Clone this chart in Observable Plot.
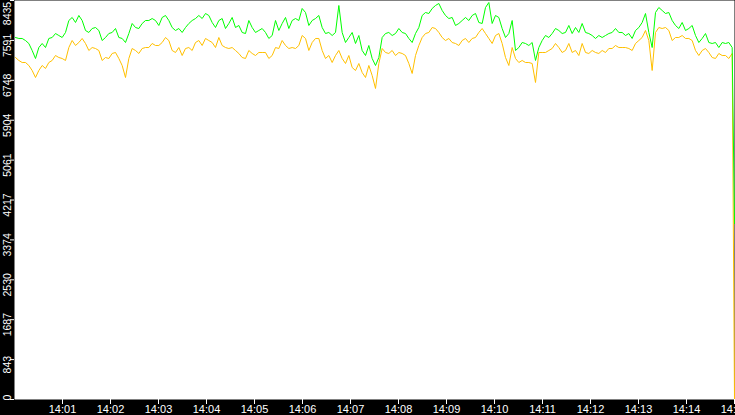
<!DOCTYPE html>
<html>
<head>
<meta charset="utf-8">
<script src="https://cdn.jsdelivr.net/npm/d3@7"></script>
<script src="https://cdn.jsdelivr.net/npm/@observablehq/plot@0.6"></script>
<style>
  html, body { margin: 0; padding: 0; background: #000; overflow: hidden; }
  #chart svg { display: block; }
</style>
</head>
<body>
<div id="chart"></div>
<script>
// ---- data ----
const greenValues = [
  7653,7632,7632,7589,7526,7378,7209,7441,7526,7441,7632,7653,7737,7695,7653,7759,8012,8076,7970,8118,8012,7801,7759,7843,7864,7801,7589,7653,7737,7759,7843,7653,7632,7547,7737,7949,7864,7843,7949,8012,8012,8054,8012,7907,8076,8118,8012,7864,7801,7843,7759,7864,7949,8012,
  8054,8118,8054,8160,8118,7970,7864,8012,8054,7843,7949,8076,7864,7907,7759,7737,8012,7864,7759,7801,7843,7759,7632,7695,8012,7801,7949,8076,7843,8012,8054,8012,8266,8181,7907,8012,8054,8118,7864,7737,7759,7695,7759,8329,7759,7547,7653,7759,7526,7695,7378,7272,7484,7209,
  7061,7230,7653,7737,7759,7695,7737,7843,7759,7737,7632,7547,7737,7864,8118,8181,8160,8266,8329,8372,8224,8118,8054,8076,7907,7949,8012,8076,8012,8118,8160,7970,7949,8287,8393,7949,8118,8076,7843,7653,7737,8012,7378,7441,7547,7526,7484,7547,7167,7441,7589,7695,7653,7737,
  7843,7801,7737,7759,7907,7737,7864,7759,7949,7759,7737,7695,7632,7695,7653,7695,7737,7759,7843,7759,7759,7695,7737,7632,7801,7864,7970,8160,7759,7441,8181,8287,8224,8160,8181,8012,7907,7843,7970,7801,7843,7907,7695,7547,7632,7737,7547,7526,7547,7441,7547,7526,7547,7441,
  3720
];
const yellowValues = [
  7230,7167,7124,7124,7061,6955,6807,6955,7061,6998,7124,7167,7272,7230,7209,7167,7441,7589,7484,7547,7632,7526,7378,7441,7420,7378,7167,7230,7209,7315,7336,7209,7061,6807,7209,7420,7378,7315,7420,7441,7441,7526,7484,7484,7547,7653,7589,7378,7336,7441,7272,7420,7441,7378,
  7547,7589,7484,7632,7589,7547,7441,7653,7484,7441,7420,7441,7378,7315,7230,7209,7378,7315,7272,7336,7336,7336,7209,7272,7441,7420,7589,7484,7420,7441,7420,7484,7695,7632,7378,7547,7632,7632,7378,7209,7272,7124,7272,7378,7209,7103,7272,7019,6955,7103,6913,6807,7061,6850,
  6575,7103,7420,7336,7315,7378,7272,7336,7315,7272,7103,6892,7272,7484,7653,7737,7759,7864,7843,7759,7653,7589,7632,7547,7526,7484,7589,7632,7547,7632,7653,7759,7843,7737,7632,7526,7695,7737,7526,7230,7061,7441,7209,7124,7167,7124,7124,7103,6702,7336,7336,7336,7378,7420,
  7526,7441,7336,7378,7526,7336,7378,7272,7526,7336,7315,7378,7336,7315,7378,7336,7420,7420,7484,7441,7441,7441,7420,7378,7526,7589,7653,7801,7589,6955,7759,7864,7843,7864,7801,7589,7653,7653,7695,7632,7632,7589,7378,7272,7378,7420,7336,7230,7209,7315,7272,7272,7209,7315,
  0
];
const startTime = "2024-01-01T14:00:01.250Z";   // first sample
const sampleStepSeconds = 4.1667;                // sampling interval
const endTime = "2024-01-01T14:15:00Z";          // last sample (drop)
const xDomain = ["2024-01-01T14:00:00Z", "2024-01-01T14:15:00Z"];
const xTickTimes = ["14:01","14:02","14:03","14:04","14:05","14:06","14:07","14:08","14:09","14:10","14:11","14:12","14:13","14:14","14:15"];
const yMax = 8435;
const yTickLabels = [0, 843, 1687, 2530, 3374, 4217, 5061, 5904, 6748, 7591, 8435];

// ---- build table ----
const t0 = new Date(startTime).getTime();
const tEnd = new Date(endTime);
const n = greenValues.length;
const timeAt = i => i === n - 1 ? tEnd : new Date(t0 + i * sampleStepSeconds * 1000);
const greenRows = greenValues.map((v, i) => ({time: timeAt(i), value: v}));
const yellowRows = yellowValues.map((v, i) => ({time: timeAt(i), value: v}));
const xTicks = xTickTimes.map(s => new Date(`2024-01-01T${s}:00Z`));
const midLabels = yTickLabels.slice(1, -1);

const labelOpts = {y: d => d, text: d => String(d), frameAnchor: "left", dx: -7, rotate: -90, textAnchor: "middle", lineAnchor: "middle", fill: "#fff", fontSize: 10.5};

const chart = Plot.plot({
  width: 735,
  height: 415,
  marginLeft: 14,
  marginRight: 1,
  marginTop: 0,
  marginBottom: 16,
  style: {background: "#000", color: "#fff", fontFamily: "Liberation Sans, Arial, sans-serif", overflow: "hidden"},
  x: {type: "utc", domain: xDomain.map(d => new Date(d))},
  y: {domain: [0, yMax]},
  marks: [
    Plot.frame({fill: "#fff", stroke: null}),
    Plot.line(yellowRows, {x: "time", y: "value", stroke: "#ffc000", strokeWidth: 1}),
    Plot.line(greenRows, {x: "time", y: "value", stroke: "#00ff00", strokeWidth: 1}),
    Plot.axisX({ticks: xTicks, tickFormat: d3.utcFormat("%H:%M"), tickSize: 5, tickPadding: 1, fontSize: 11, stroke: "#fff", fill: "#fff", label: null}),
    Plot.axisY({ticks: yTickLabels, tickSize: 4, tickFormat: () => "", stroke: "#fff", label: null}),
    Plot.text(midLabels, {...labelOpts, dy: 5}),
    Plot.text([yTickLabels[yTickLabels.length - 1]], {...labelOpts, dy: 13}),
    Plot.text([yTickLabels[0]], {...labelOpts, dy: -2})
  ]
});
document.getElementById("chart").appendChild(chart);
</script>
</body>
</html>
